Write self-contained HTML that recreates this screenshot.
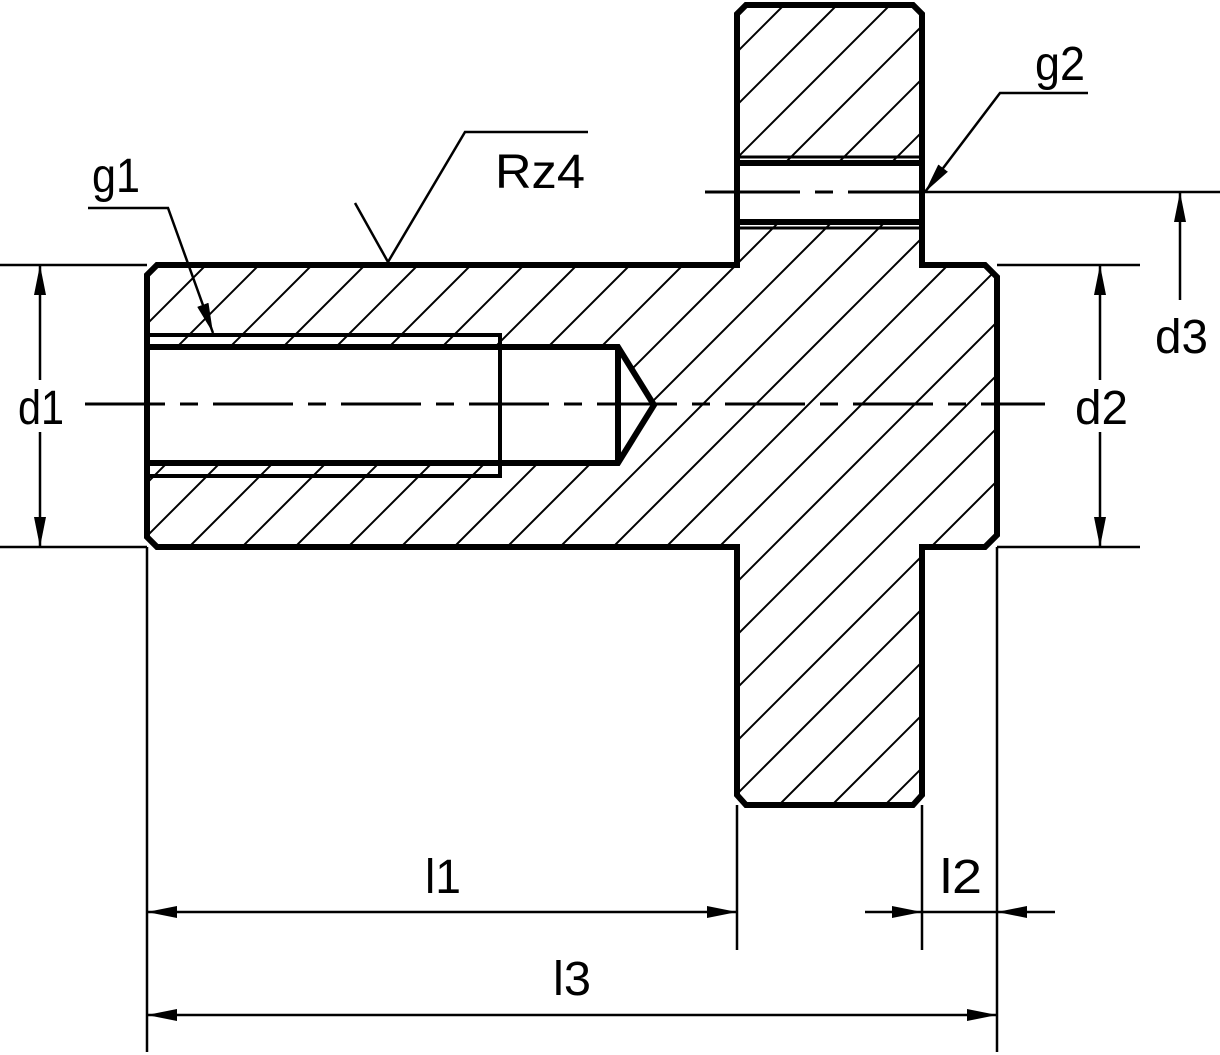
<!DOCTYPE html>
<html><head><meta charset="utf-8"><style>
html,body{margin:0;padding:0;background:#fff;width:1220px;height:1055px;overflow:hidden}
svg{display:block}
text{font-family:"Liberation Sans Narrow","Liberation Sans",sans-serif;font-size:48px;fill:#000}
</style></head><body>
<svg width="1220" height="1055" viewBox="0 0 1220 1055" xmlns="http://www.w3.org/2000/svg">
<defs>
<clipPath id="c">
<path d="M157,265 L737,265 L737,14 L746,5 L913,5 L922,14 L922,265 L985,265 L997,277 L997,535 L985,547 L922,547 L922,795 L913,805 L746,805 L737,795 L737,547 L157,547 L147,537 L147,275 Z"/>
</clipPath>
<marker id="a" viewBox="0 0 30 12" refX="30" refY="6" markerWidth="30" markerHeight="12" markerUnits="userSpaceOnUse" orient="auto">
<path d="M0,0 L30,6 L0,12 Z" fill="#000"/>
</marker>
</defs>
<g clip-path="url(#c)" stroke="#000" stroke-width="2">
<line x1="0" y1="153" x2="153" y2="0"/>
<line x1="0" y1="206" x2="206" y2="0"/>
<line x1="0" y1="259" x2="259" y2="0"/>
<line x1="0" y1="312" x2="312" y2="0"/>
<line x1="0" y1="365" x2="365" y2="0"/>
<line x1="0" y1="418" x2="418" y2="0"/>
<line x1="0" y1="471" x2="471" y2="0"/>
<line x1="0" y1="524" x2="524" y2="0"/>
<line x1="0" y1="577" x2="577" y2="0"/>
<line x1="0" y1="630" x2="630" y2="0"/>
<line x1="0" y1="683" x2="683" y2="0"/>
<line x1="0" y1="736" x2="736" y2="0"/>
<line x1="0" y1="789" x2="789" y2="0"/>
<line x1="32" y1="810" x2="842" y2="0"/>
<line x1="85" y1="810" x2="895" y2="0"/>
<line x1="138" y1="810" x2="948" y2="0"/>
<line x1="191" y1="810" x2="1000" y2="1"/>
<line x1="244" y1="810" x2="1000" y2="54"/>
<line x1="297" y1="810" x2="1000" y2="107"/>
<line x1="350" y1="810" x2="1000" y2="160"/>
<line x1="403" y1="810" x2="1000" y2="213"/>
<line x1="456" y1="810" x2="1000" y2="266"/>
<line x1="509" y1="810" x2="1000" y2="319"/>
<line x1="562" y1="810" x2="1000" y2="372"/>
<line x1="615" y1="810" x2="1000" y2="425"/>
<line x1="668" y1="810" x2="1000" y2="478"/>
<line x1="721" y1="810" x2="1000" y2="531"/>
<line x1="774" y1="810" x2="1000" y2="584"/>
<line x1="827" y1="810" x2="1000" y2="637"/>
<line x1="880" y1="810" x2="1000" y2="690"/>
<line x1="933" y1="810" x2="1000" y2="743"/>
<line x1="986" y1="810" x2="1000" y2="796"/>
</g>
<path d="M147,347 L618,347 L654,405 L618,463 L147,463 Z" fill="#fff"/>
<rect x="737" y="163" width="185" height="59" fill="#fff"/>
<path d="M157,265 L737,265 L737,14 L746,5 L913,5 L922,14 L922,265 L985,265 L997,277 L997,535 L985,547 L922,547 L922,795 L913,805 L746,805 L737,795 L737,547 L157,547 L147,537 L147,275 Z" fill="none" stroke="#000" stroke-width="6" stroke-linejoin="miter"/>
<g stroke="#000" fill="none">
<path d="M147,347 L618,347 L654,405 L618,463 L147,463" stroke-width="6"/>
<line x1="618" y1="347" x2="618" y2="463" stroke-width="6"/>
<path d="M147,335 L500,335 L500,476 L147,476" stroke-width="4"/>
<line x1="737" y1="163" x2="922" y2="163" stroke-width="6"/>
<line x1="737" y1="222" x2="922" y2="222" stroke-width="6"/>
<line x1="737" y1="157" x2="922" y2="157" stroke-width="3"/>
<line x1="737" y1="228" x2="922" y2="228" stroke-width="3"/>
</g>
<g stroke="#000" stroke-width="2.5" fill="none">
<line x1="85" y1="404" x2="1045" y2="404" stroke-dasharray="80,15,18,15" stroke-width="3"/>
<line x1="705" y1="192" x2="925" y2="192" stroke-dasharray="95,15,18,15" stroke-width="3"/>
<line x1="925" y1="192" x2="1220" y2="192"/>
<line x1="0" y1="265" x2="147" y2="265"/>
<line x1="0" y1="547" x2="147" y2="547"/>
<line x1="997" y1="265" x2="1140" y2="265"/>
<line x1="997" y1="547" x2="1140" y2="547"/>
<line x1="147" y1="547" x2="147" y2="1052"/>
<line x1="997" y1="547" x2="997" y2="1052"/>
<line x1="737" y1="805" x2="737" y2="950"/>
<line x1="922" y1="805" x2="922" y2="950"/>
<line x1="40" y1="380" x2="40" y2="265" marker-end="url(#a)"/>
<line x1="40" y1="432" x2="40" y2="547" marker-end="url(#a)"/>
<line x1="1100" y1="380" x2="1100" y2="265" marker-end="url(#a)"/>
<line x1="1100" y1="432" x2="1100" y2="547" marker-end="url(#a)"/>
<line x1="1180" y1="300" x2="1180" y2="192" marker-end="url(#a)"/>
<line x1="442" y1="912" x2="147" y2="912" marker-end="url(#a)"/>
<line x1="442" y1="912" x2="737" y2="912" marker-end="url(#a)"/>
<line x1="865" y1="912" x2="922" y2="912" marker-end="url(#a)"/>
<line x1="1055" y1="912" x2="997" y2="912" marker-end="url(#a)"/>
<line x1="922" y1="912" x2="997" y2="912"/>
<line x1="572" y1="1015" x2="147" y2="1015" marker-end="url(#a)"/>
<line x1="572" y1="1015" x2="997" y2="1015" marker-end="url(#a)"/>
<polyline points="88,208 168,208 213,333" marker-end="url(#a)"/>
<polyline points="1088,93 1000,93 925,192" marker-end="url(#a)"/>
<polyline points="355,203 388,262 465,132 588,132"/>
</g>
<text x="18" y="424" textLength="46" lengthAdjust="spacingAndGlyphs">d1</text>
<text x="1075" y="424" textLength="53" lengthAdjust="spacingAndGlyphs">d2</text>
<text x="1155" y="353" textLength="53" lengthAdjust="spacingAndGlyphs">d3</text>
<text x="92" y="192" textLength="48" lengthAdjust="spacingAndGlyphs">g1</text>
<text x="1035" y="80" textLength="50" lengthAdjust="spacingAndGlyphs">g2</text>
<text x="495" y="188" textLength="90" lengthAdjust="spacingAndGlyphs">Rz4</text>
<text x="425" y="893" textLength="36" lengthAdjust="spacingAndGlyphs">l1</text>
<text x="940" y="893" textLength="42" lengthAdjust="spacingAndGlyphs">l2</text>
<text x="553" y="995" textLength="38" lengthAdjust="spacingAndGlyphs">l3</text>
</svg>
</body></html>
